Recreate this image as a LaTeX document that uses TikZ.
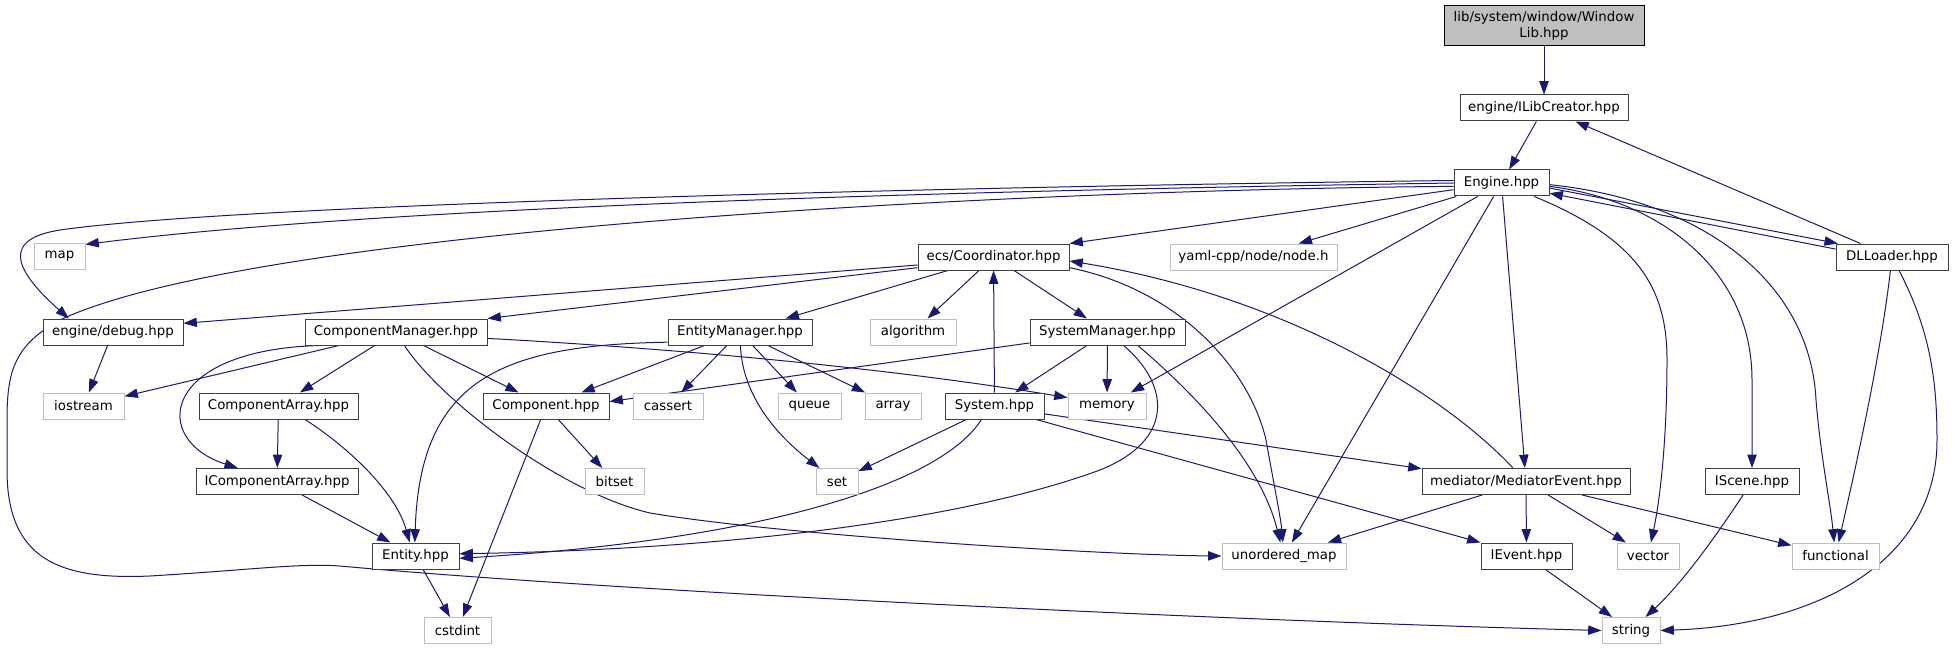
\documentclass[tikz,border=0pt]{standalone}
\usepackage{fontspec}
\setmainfont{DejaVu Sans}
\usetikzlibrary{arrows.meta,backgrounds}
\definecolor{edgec}{HTML}{191970}
\definecolor{docb}{HTML}{404040}
\definecolor{sysb}{HTML}{BFBFBF}
\definecolor{rootf}{HTML}{BFBFBF}
\begin{document}
\begin{tikzpicture}[x=0.75pt,y=-0.75pt,
  dnode/.style={draw=docb, fill=white, line width=0.75pt, minimum height=19.5pt, inner sep=0pt, font=\fontsize{10}{12}\selectfont, text=black},
  snode/.style={dnode, draw=sysb},
  bw/.style={minimum width=#1*0.75pt},
  dep/.style={draw=edgec, line width=0.75pt, -{Triangle[length=10pt,width=7pt]}}]
\useasboundingbox (0,0) rectangle (1953,649);
% nodes
\node[dnode, fill=rootf, draw=black, bw=200, minimum height=30pt, align=center] (root) at (1544,26) {lib/system/window/Window\\Lib.hpp};
\node[dnode,bw=168] (ilib) at (1544,108) {engine/ILibCreator.hpp};
\node[dnode,bw=95] (engine) at (1501.5,183) {Engine.hpp};
\node[snode,bw=51] (map) at (59.5,256.5) {map};
\node[dnode,bw=151] (coord) at (993.5,257) {ecs/Coordinator.hpp};
\node[snode,bw=167] (yaml) at (1253.5,257) {yaml-cpp/node/node.h};
\node[dnode,bw=112] (dll) at (1892,257) {DLLoader.hpp};
\node[dnode,bw=140] (debug) at (113,332) {engine/debug.hpp};
\node[dnode,bw=182] (cm) at (396,332) {ComponentManager.hpp};
\node[dnode,bw=144] (em) at (740,332) {EntityManager.hpp};
\node[snode,bw=86] (algo) at (913,332) {algorithm};
\node[dnode,bw=155] (sm) at (1107.5,332) {SystemManager.hpp};
\node[snode,bw=81] (iostream) at (83.5,406) {iostream};
\node[dnode,bw=159] (carr) at (278.5,406) {ComponentArray.hpp};
\node[dnode,bw=126] (comp) at (546,406) {Component.hpp};
\node[snode,bw=70] (cassert) at (668,406) {cassert};
\node[snode,bw=63] (queue) at (809.5,406) {queue};
\node[snode,bw=56] (array) at (893,406) {array};
\node[dnode,bw=99] (system) at (994.5,406) {System.hpp};
\node[snode,bw=78] (memory) at (1107,406) {memory};
\node[dnode,bw=162] (icarr) at (277,481.5) {IComponentArray.hpp};
\node[snode,bw=59] (bitset) at (614.5,481.5) {bitset};
\node[snode,bw=42] (set) at (837,481.5) {set};
\node[dnode,bw=208] (med) at (1526,481.5) {mediator/MediatorEvent.hpp};
\node[dnode,bw=94] (iscene) at (1752,481.5) {IScene.hpp};
\node[dnode,bw=87] (entity) at (415.5,556) {Entity.hpp};
\node[snode,bw=124] (umap) at (1284,556) {unordered\_map};
\node[dnode,bw=91] (ievent) at (1526.5,556) {IEvent.hpp};
\node[snode,bw=62] (vector) at (1648,556) {vector};
\node[snode,bw=87] (functional) at (1835.5,556) {functional};
\node[snode,bw=67] (cstdint) at (457.5,630.5) {cstdint};
\node[snode,bw=58] (string) at (1631,630.5) {string};
% edges
\begin{pgfonlayer}{background}
\draw[dep] (root) -- (ilib);
\draw[dep] (ilib) -- (engine);
\draw[dep] (dll) -- (ilib);
\draw[dep] (engine.-6) -- (dll.166);
\draw[dep] (dll.172) -- (engine.-12);
\draw[dep] (engine.180) .. controls (1000,190) and (400,205) .. (map.25);
\draw[dep] (engine.177) .. controls (1000,186) and (250,203) .. (60,230) .. controls (10,238) and (5,262) .. (debug.163);
\draw[dep] (engine.184) .. controls (1000,190) and (250,230) .. (60,320) .. controls (15,345) and (7,370) .. (7,420) -- (7,470) .. controls (7,560) and (60,580) .. (150,576) .. controls (250,570) and (300,563) .. (340,566) .. controls (600,590) and (1200,620) .. (string.west);
\draw[dep] (engine) -- (coord.north east);
\draw[dep] (engine) -- (yaml);
\draw[dep] (engine) -- (memory);
\draw[dep] (engine) -- (umap);
\draw[dep] (engine) -- (med);
\draw[dep] (engine) .. controls (1640,240) and (1667,290) .. (1667,360) .. controls (1667,440) and (1660,500) .. (vector);
\draw[dep] (engine.-4) .. controls (1660,200) and (1752,270) .. (1752,380) -- (iscene);
\draw[dep] (engine.-2) .. controls (1700,200) and (1810,280) .. (1816,400) .. controls (1821,460) and (1830,500) .. (functional);
\draw[dep] (dll) .. controls (1880,360) and (1855,470) .. (functional);
\draw[dep] (dll) .. controls (1930,330) and (1937,380) .. (1937,440) .. controls (1937,560) and (1820,625) .. (string.east);
% coordinator
\draw[dep] (coord.186) -- (debug.7);
\draw[dep] (coord.188) -- (cm.north east);
\draw[dep] (coord) -- (em);
\draw[dep] (coord) -- (algo);
\draw[dep] (coord) -- (sm);
\draw[dep] (coord.-8) .. controls (1180,290) and (1250,370) .. (1266,440) .. controls (1275,490) and (1281,520) .. (umap.95);
\draw[dep] (med.134) .. controls (1440,390) and (1280,295) .. (coord.-3);
\draw[dep] (system) -- (coord);
% system manager
\draw[dep] (sm) -- (system);
\draw[dep] (sm) -- (memory);
\draw[dep] (sm.188) -- (comp.4);
\draw[dep] (sm.-24) .. controls (1190,390) and (1260,460) .. (umap.105);
\draw[dep] (sm.-40) .. controls (1170,385) and (1175,440) .. (1100,470) .. controls (950,525) and (700,550) .. (entity.3);
% system
\draw[dep] (system) -- (set);
\draw[dep] (system.-134) .. controls (940,485) and (760,540) .. (entity.-3);
\draw[dep] (system.-9) -- (med.173);
\draw[dep] (system.-18) -- (ievent.north west);
% entity manager
\draw[dep] (em) -- (cassert);
\draw[dep] (em) -- (queue);
\draw[dep] (em) -- (array);
\draw[dep] (em) -- (comp);
\draw[dep] (em) .. controls (742,390) and (770,430) .. (set);
\draw[dep] (em.188) .. controls (500,345) and (420,380) .. (entity.93);
% component manager
\draw[dep] (cm) -- (iostream);
\draw[dep] (cm) -- (carr);
\draw[dep] (cm) -- (comp);
\draw[dep] (cm.190) .. controls (160,350) and (150,440) .. (icarr.161);
\draw[dep] (cm.-4) .. controls (700,350) and (900,370) .. (memory.168);
\draw[dep] (cm.-58) .. controls (440,400) and (560,492) .. (650,513) .. controls (780,535) and (1100,555) .. (umap.west);
% others
\draw[dep] (debug) -- (iostream);
\draw[dep] (carr) -- (icarr);
\draw[dep] (carr.-27) .. controls (345,445) and (395,490) .. (entity.113);
\draw[dep] (icarr) -- (entity);
\draw[dep] (comp) -- (bitset);
\draw[dep] (comp) -- (cstdint);
\draw[dep] (entity) -- (cstdint);
\draw[dep] (med) -- (umap);
\draw[dep] (med) -- (ievent);
\draw[dep] (med) -- (vector);
\draw[dep] (med) -- (functional);
\draw[dep] (ievent) -- (string);
\draw[dep] (iscene) .. controls (1710,545) and (1680,585) .. (string);
\end{pgfonlayer}
\end{tikzpicture}
\end{document}
